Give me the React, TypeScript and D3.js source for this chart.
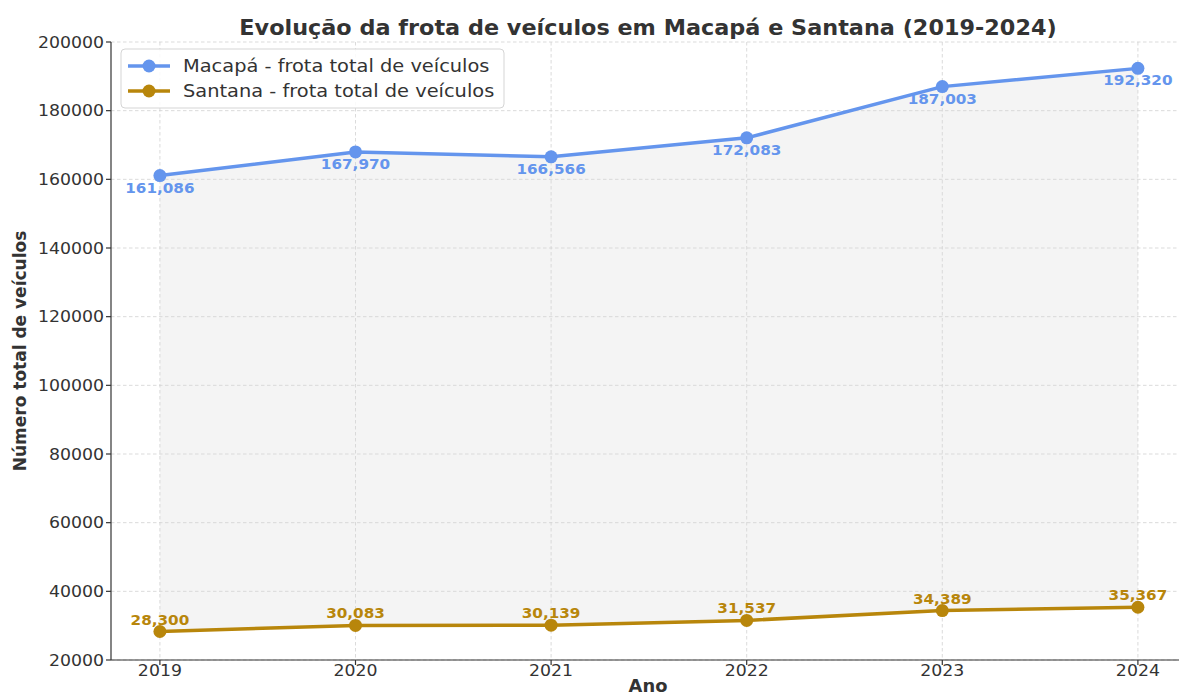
import React from "react";
import * as d3 from "d3";

const years = [2019, 2020, 2021, 2022, 2023, 2024];
const macapa = [161086, 167970, 166566, 172083, 187003, 192320];
const santana = [28300, 30083, 30139, 31537, 34389, 35367];
const yTicks = [20000, 40000, 60000, 80000, 100000, 120000, 140000, 160000, 180000, 200000];

const W = 1179;
const H = 697;
const FONT = "DejaVu Sans, sans-serif";
const BLUE = "#6495ED";
const GOLD = "#B8860B";
const TXT = "#333333";

function Txt(props: {
  x: number;
  y: number;
  sx?: number;
  anchor?: string;
  size: number;
  bold?: boolean;
  fill: string;
  dy?: string;
  children: React.ReactNode;
}) {
  const { x, y, sx = 1, anchor = "start", size, bold, fill, dy, children } = props;
  return (
    <g transform={`translate(${x},${y}) scale(${sx},1)`}>
      <text x={0} y={0} dy={dy} textAnchor={anchor as any} fontSize={size} fontWeight={bold ? "bold" : "normal"} fill={fill}>
        {children}
      </text>
    </g>
  );
}

export default function App() {
  const left = 111;
  const bottom = 660;
  const top = 42;
  const x = d3.scaleLinear().domain([2019 - 0.25, 2024 + 0.25]).range([left, left + (1138 - 160) * 5.5 / 5]);
  const y = d3.scaleLinear().domain([20000, 200000]).range([bottom, top]);
  const right = W;

  const lineGen = d3.line<number>().x((_, i) => x(years[i])).y((d) => y(d));
  const areaGen = d3
    .area<number>()
    .x((_, i) => x(years[i]))
    .y0((_, i) => y(santana[i]))
    .y1((d) => y(d));

  const fmt = d3.format(",");

  return (
    <svg width={W} height={H} style={{ position: "absolute", left: 0, top: 0, background: "#fff" }} fontFamily={FONT}>
      <rect x={0} y={0} width={W} height={H} fill="#fff" />
      {yTicks.map((t) => (
        <line key={"gy" + t} x1={left} x2={right} y1={y(t)} y2={y(t)} stroke="#d2d2d2" strokeWidth={0.8} strokeDasharray="3.5,2.5" />
      ))}
      {years.map((yr) => (
        <line key={"gx" + yr} x1={x(yr)} x2={x(yr)} y1={top} y2={bottom} stroke="#d2d2d2" strokeWidth={0.8} strokeDasharray="3.5,2.5" />
      ))}
      <path d={areaGen(macapa) || ""} fill="#d8d8d8" fillOpacity={0.27} />
      <path d={lineGen(macapa) || ""} fill="none" stroke={BLUE} strokeWidth={3.5} strokeLinejoin="round" />
      <path d={lineGen(santana) || ""} fill="none" stroke={GOLD} strokeWidth={3.5} strokeLinejoin="round" />
      {macapa.map((v, i) => (
        <circle key={"mc" + i} cx={x(years[i])} cy={y(v)} r={6.5} fill={BLUE} />
      ))}
      {santana.map((v, i) => (
        <circle key={"sc" + i} cx={x(years[i])} cy={y(v)} r={6.5} fill={GOLD} />
      ))}
      {macapa.map((v, i) => (
        <Txt key={"ml" + i} x={x(years[i])} y={y(v) + 17} sx={1.05} anchor="middle" size={14.5} bold fill={BLUE}>
          {fmt(v)}
        </Txt>
      ))}
      {santana.map((v, i) => (
        <Txt key={"sl" + i} x={x(years[i])} y={y(v) - 7} sx={1.05} anchor="middle" size={14.5} bold fill={GOLD}>
          {fmt(v)}
        </Txt>
      ))}
      <line x1={left} x2={left} y1={top} y2={bottom} stroke={TXT} strokeWidth={1.2} />
      <line x1={left} x2={right} y1={bottom} y2={bottom} stroke={TXT} strokeWidth={1.2} />
      {yTicks.map((t) => (
        <g key={"yt" + t}>
          <line x1={left - 5} x2={left} y1={y(t)} y2={y(t)} stroke={TXT} strokeWidth={1.2} />
          <Txt x={left - 7} y={y(t)} dy="0.35em" sx={1.05} anchor="end" size={16.5} fill={TXT}>
            {t}
          </Txt>
        </g>
      ))}
      {years.map((yr) => (
        <g key={"xt" + yr}>
          <line x1={x(yr)} x2={x(yr)} y1={bottom} y2={bottom + 5} stroke={TXT} strokeWidth={1.2} />
          <Txt x={x(yr)} y={676} sx={1.05} anchor="middle" size={16.5} fill={TXT}>
            {yr}
          </Txt>
        </g>
      ))}
      <Txt x={648} y={692} sx={1.05} anchor="middle" size={17} bold fill={TXT}>
        Ano
      </Txt>
      <text transform={`translate(26,${(top + bottom) / 2}) rotate(-90)`} textAnchor="middle" fontSize={17} fontWeight="bold" fill={TXT}>
        Número total de veículos
      </text>
      <Txt x={648} y={35} sx={1.09} anchor="middle" size={20.5} bold fill={TXT}>
        Evolução da frota de veículos em Macapá e Santana (2019-2024)
      </Txt>
      <g>
        <rect x={121} y={49} width={383} height={59} rx={4} fill="#fff" fillOpacity={0.85} stroke="#d5d5d5" strokeWidth={1} />
        <line x1={128} x2={170} y1={66} y2={66} stroke={BLUE} strokeWidth={3.5} />
        <circle cx={149} cy={66} r={6.5} fill={BLUE} />
        <Txt x={183} y={66} dy="0.35em" sx={1.06} size={18.3} fill={TXT}>
          Macapá - frota total de veículos
        </Txt>
        <line x1={128} x2={170} y1={91} y2={91} stroke={GOLD} strokeWidth={3.5} />
        <circle cx={149} cy={91} r={6.5} fill={GOLD} />
        <Txt x={183} y={91} dy="0.35em" sx={1.06} size={18.3} fill={TXT}>
          Santana - frota total de veículos
        </Txt>
      </g>
    </svg>
  );
}
